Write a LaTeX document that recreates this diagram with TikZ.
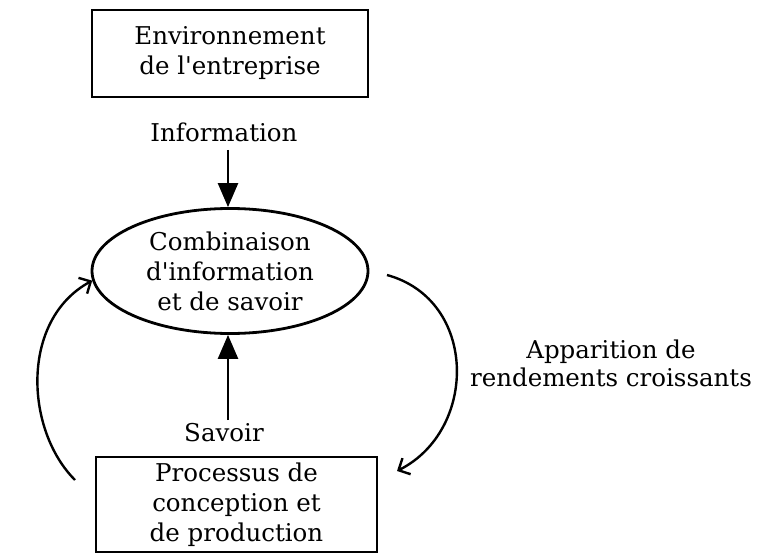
\documentclass[tikz,border=0pt]{standalone}
\usepackage{fontspec}
\setmainfont{DejaVu Serif}
\usetikzlibrary{arrows.meta,shapes.geometric}
\begin{document}
\begin{tikzpicture}[x=1pt,y=-1pt,
  txt/.style={font=\fontsize{24.5}{30}\selectfont, align=center, inner sep=0pt},
  boxnode/.style={draw, line width=2.6pt, inner sep=0pt},
  bigtip/.style={-{Triangle[length=24pt,width=20pt]}, line width=2.4pt},
  curvearr/.style={-{Straight Barb[length=9pt,width=18pt,line width=2.4pt]}, line width=2.4pt}
]
\useasboundingbox (0,0) rectangle (759,553);
\fill[white] (0,0) rectangle (759,553);

\node[boxnode, minimum width=276pt, minimum height=87pt, txt] (env) at (230,53.5) {Environnement\\de l\textquotesingle entreprise};
\node[txt] (info) at (224,132) {Information};
\node[draw, ellipse, line width=2.8pt, minimum width=276pt, minimum height=125pt, inner sep=0pt, txt] (comb) at (230,271) {Combinaison\\d\textquotesingle information\\et de savoir};
\node[txt] (sav) at (224,433) {Savoir};
\node[boxnode, minimum width=281pt, minimum height=95pt, txt] (proc) at (236.5,504.5) {Processus de\\conception et\\de production};
\node[txt, font=\fontsize{24.5}{28}\selectfont] (rend) at (611,363) {Apparition de\\rendements croissants};

\coordinate (infotop) at (228,150);
\coordinate (savbot) at (228,420);
\coordinate (lstart) at (75,480);
\coordinate (rstart) at (387,275);
\coordinate (rend2) at (397,471);

\draw[bigtip] (infotop) -- (infotop |- comb.north);
\draw[bigtip] (savbot) -- (savbot |- comb.south);
\draw[curvearr] (lstart) .. controls (25,430) and (20,320) .. (comb.184);
\draw[curvearr] (rstart) .. controls (478,300) and (478,430) .. (rend2);
\end{tikzpicture}
\end{document}
